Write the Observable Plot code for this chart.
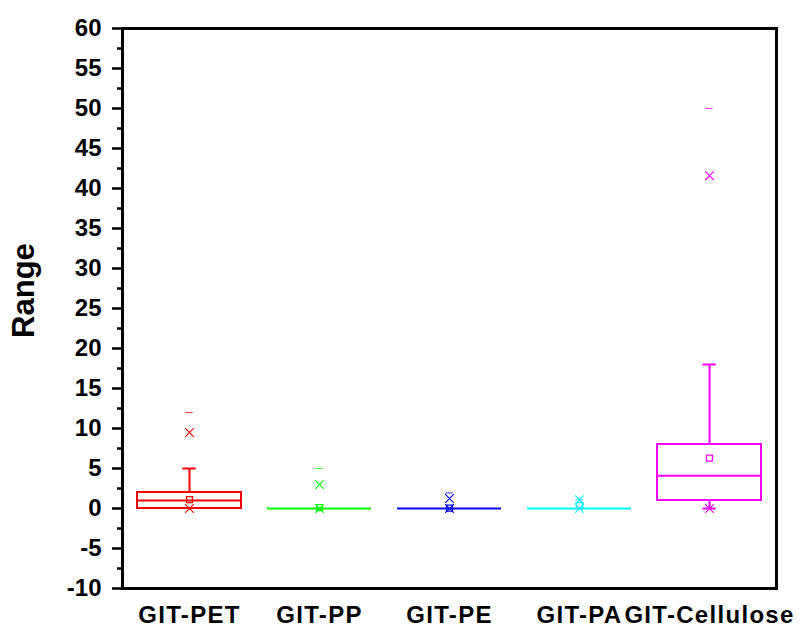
<!DOCTYPE html>
<html><head><meta charset="utf-8">
<script src="https://cdn.jsdelivr.net/npm/d3@7"></script>
<script src="https://cdn.jsdelivr.net/npm/@observablehq/plot@0.6"></script>
<style>body{margin:0;background:#fff} #chart svg{display:block}</style>
</head><body><div id="chart"></div>
<script>
const categories = ["GIT-PET", "GIT-PP", "GIT-PE", "GIT-PA", "GIT-Cellulose"];
const colors = ["#ff0000", "#00ff00", "#0000ff", "#00ffff", "#ff00ff"];
const q1 = [0, 0, 0, 0, 1];
const median = [1, 0, 0, 0, 4.1];
const q3 = [2, 0, 0, 0, 8];
const whiskerLow = [0, 0, 0, 0, 0];
const whiskerHigh = [5, 0, 0, 0, 18];
const mean = [1.1, 0.1, 0.05, 0.35, 6.3];
const p1 = [0, 0, 0, 0, 0];
const p99 = [9.5, 3, 1.25, 1.1, 41.6];
const minVal = [0, 0, 0, 0, 0];
const maxVal = [12, 5, 1.95, 1.1, 50];
const yMajor = [-10, -5, 0, 5, 10, 15, 20, 25, 30, 35, 40, 45, 50, 55, 60];
const yMinor = [-7.5, -2.5, 2.5, 7.5, 12.5, 17.5, 22.5, 27.5, 32.5, 37.5, 42.5, 47.5, 52.5, 57.5];
const yTitle = "Range";

const rows = categories.map((c, i) => ({
  name: c, color: colors[i], q1: q1[i], median: median[i], q3: q3[i],
  wlo: whiskerLow[i], whi: whiskerHigh[i], mean: mean[i],
  p1: p1[i], p99: p99[i], min: minVal[i], max: maxVal[i]
}));

const bw = 654 / 5 * 0.8;
const capInset = (bw - 14) / 2;
const dashInset = (bw - 8) / 2;

const timesMarks = rows.flatMap(r => [
  Plot.dot([r], {x: "name", y: "p99", symbol: "times", r: 4, stroke: r.color, strokeWidth: 1.1, fill: "none"}),
  Plot.dot([r], {x: "name", y: "p1", symbol: "times", r: 4, stroke: r.color, strokeWidth: 1.1, fill: "none"})
]);

const chart = Plot.plot({
  width: 800, height: 628,
  marginLeft: 122, marginRight: 24, marginTop: 28, marginBottom: 40,
  style: {fontFamily: "'Liberation Sans', Arial, sans-serif", fontWeight: "bold", fontSize: "24px", color: "black", background: "white", overflow: "visible"},
  x: {type: "band", domain: categories, paddingInner: 0.2, paddingOuter: 0.1},
  y: {domain: [-10, 60]},
  color: {type: "identity"},
  marks: [
    Plot.axisY({ticks: yMinor, tickSize: 5, strokeWidth: 2.5, tickFormat: () => "", label: null}),
    Plot.axisY({ticks: yMajor, tickSize: 10, tickPadding: 11, strokeWidth: 2.5, tickFormat: d => String(d), label: null}),
    Plot.axisX({tickSize: 0, tickPadding: 17, label: null}),
    Plot.barY(rows, {x: "name", y1: "q1", y2: "q3", fill: "none", stroke: "color", strokeWidth: 2}),
    Plot.tickY(rows, {x: "name", y: "median", stroke: "color", strokeWidth: 2}),
    Plot.ruleX(rows, {x: "name", y1: "q3", y2: "whi", stroke: "color", strokeWidth: 2}),
    Plot.ruleX(rows, {x: "name", y1: "q1", y2: "wlo", stroke: "color", strokeWidth: 2}),
    Plot.tickY(rows.filter(d => d.whi > d.q3), {x: "name", y: "whi", stroke: "color", strokeWidth: 2, insetLeft: capInset, insetRight: capInset}),
    Plot.tickY(rows.filter(d => d.wlo < d.q1), {x: "name", y: "wlo", stroke: "color", strokeWidth: 2, insetLeft: capInset, insetRight: capInset}),
    Plot.dot(rows, {x: "name", y: "mean", symbol: "square", r: 3.4, stroke: "color", strokeWidth: 1.3, fill: "none"}),
    ...timesMarks,
    Plot.tickY(rows, {x: "name", y: "max", stroke: "color", strokeWidth: 1, strokeOpacity: 0.8, insetLeft: dashInset, insetRight: dashInset}),
    Plot.tickY(rows, {x: "name", y: "min", stroke: "color", strokeWidth: 1, strokeOpacity: 0.8, insetLeft: dashInset, insetRight: dashInset}),
    Plot.frame({stroke: "black", strokeWidth: 3}),
    Plot.text([yTitle], {frameAnchor: "left", textAnchor: "middle", rotate: -90, dx: -98, dy: -18, fontSize: 31, fontWeight: "bold", fill: "black"})
  ]
});
d3.select(chart).selectAll('g[aria-label="x-axis tick label"] text').style("letter-spacing", "1.3px");
document.getElementById("chart").appendChild(chart);
</script>
</body></html>
